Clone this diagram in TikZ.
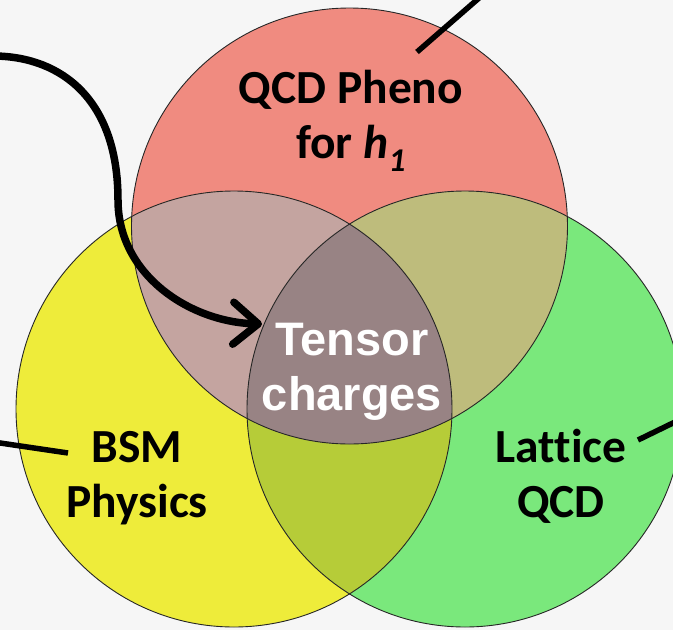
\documentclass[tikz,border=0pt]{standalone}
\usepackage{fontspec}
\setmainfont[Ligatures=NoCommon]{Carlito}
\newfontfamily\arialfont{Liberation Sans}
\usetikzlibrary{arrows.meta}

\definecolor{bgcol}{HTML}{F6F6F6}
\definecolor{redfill}{HTML}{F08B80}
\definecolor{yelfill}{HTML}{EEEC3A}
\definecolor{grnfill}{HTML}{7AE87C}
\definecolor{ryfill}{HTML}{C4A4A0}
\definecolor{rgfill}{HTML}{BEBC7C}
\definecolor{ygfill}{HTML}{B6CC38}
\definecolor{midfill}{HTML}{988384}

\begin{document}
\begin{tikzpicture}[x=1pt, y=-1pt, radius=218pt,
    ring/.style = {draw=black!85, line width=0.9pt},
    topic/.style = {font=\fontsize{47.5}{55}\selectfont\bfseries, align=center, anchor=base},
    pointer/.style = {line width=5.5pt}]
    \path[use as bounding box] (0,0) rectangle (673,630);
    \clip (0,0) rectangle (673,630);
    \fill[bgcol] (0,0) rectangle (673,630);

    \coordinate (R) at (349.5,226);
    \coordinate (Y) at (234,409);
    \coordinate (G) at (465,409);

    % circles and overlaps
    \fill[redfill] (R) circle;
    \fill[yelfill] (Y) circle;
    \fill[grnfill] (G) circle;
    \begin{scope}
        \clip (Y) circle;
        \fill[ygfill] (G) circle;
    \end{scope}
    \begin{scope}
        \clip (R) circle;
        \fill[ryfill] (Y) circle;
        \fill[rgfill] (G) circle;
        \clip (Y) circle;
        \fill[midfill] (G) circle;
    \end{scope}
    \draw[ring] (R) circle;
    \draw[ring] (Y) circle;
    \draw[ring] (G) circle;

    \node[topic] (pheno) at (351,158) {QCD Pheno\\for \textit{h}\textsubscript{\textit{1}}};
    \node[topic, text=white, font=\fontsize{47}{55}\selectfont\bfseries\arialfont] (tensor) at (352,410) {Tensor\\charges};
    \node[topic] (bsm) at (137,517) {BSM\\Physics};
    \node[topic] (lattice) at (561,517) {Lattice\\QCD};

    \coordinate (arrowfrom) at (-5,56);
    \coordinate (bend) at (118,200);
    \coordinate (tip) at (262,324);
    \coordinate (phenofrom) at (417,52);
    \coordinate (phenoto) at (494,-15);
    \coordinate (bsmfrom) at (68,453);
    \coordinate (bsmto) at (-10,441.5);
    \coordinate (latticefrom) at (638,440);
    \coordinate (latticeto) at (690,414.7);

    \draw[pointer, line width=7.5pt, -{Straight Barb[length=25pt, width=42pt, round]}]
        (arrowfrom) .. controls (62,57) and (118,100) .. (bend)
        .. controls (118,275) and (190,322) .. (tip);
    \draw[pointer] (phenofrom) -- (phenoto);
    \draw[pointer] (bsmfrom) -- (bsmto);
    \draw[pointer] (latticefrom) -- (latticeto);
\end{tikzpicture}
\end{document}
